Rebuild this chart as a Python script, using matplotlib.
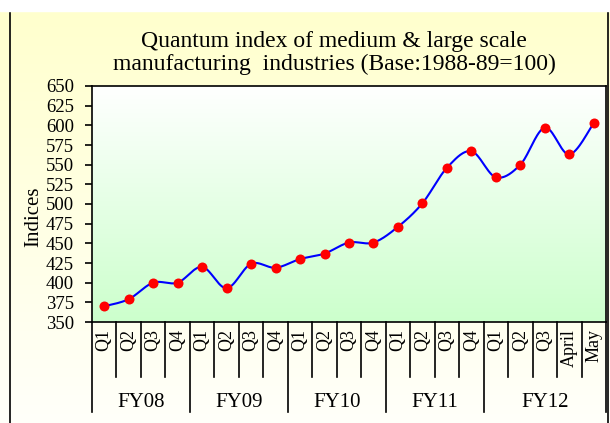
import numpy as np
import matplotlib
matplotlib.use("Agg")
import matplotlib.pyplot as plt
from matplotlib.transforms import blended_transform_factory
from matplotlib.patches import Rectangle
from matplotlib.lines import Line2D

title = "Quantum index of medium & large scale\nmanufacturing  industries (Base:1988-89=100)"
ylabel = "Indices"
fiscal_years = ["FY08", "FY09", "FY10", "FY11", "FY12"]
periods = [["Q1", "Q2", "Q3", "Q4"],
           ["Q1", "Q2", "Q3", "Q4"],
           ["Q1", "Q2", "Q3", "Q4"],
           ["Q1", "Q2", "Q3", "Q4"],
           ["Q1", "Q2", "Q3", "April", "May"]]
values = [370, 379, 400, 400,
          420, 393, 424, 419,
          430, 437, 451, 451,
          471, 501, 546, 567,
          534, 550, 597, 563, 603]
yticks = list(range(350, 651, 25))

plt.rcParams['font.family'] = ['Liberation Serif', 'DejaVu Serif']

W, H = 610, 423
fig = plt.figure(figsize=(W / 100, H / 100), dpi=100)

# figure background gradient (yellow top -> near white bottom)
bg = fig.add_axes([0, 0, 1, 1], zorder=-10)
bg.set_axis_off()
g = np.linspace(0, 1, 256)[:, None]
top = np.array([1.0, 1.0, 0.80])
bot = np.array([1.0, 1.0, 0.98])
img = top[None, None, :] * (1 - g[..., None]) + bot[None, None, :] * g[..., None]
bg.imshow(img, aspect='auto', extent=[0, 1, 0, 1], origin='upper')
bg.set_xlim(0, 1)
bg.set_ylim(0, 1)
# outer frame lines
fx0, fy0, fx1 = 9.5 / W, 1 - 11.5 / H, 608 / W
bg.add_line(Line2D([fx0, fx0], [0, fy0], color='black', lw=1.2))
bg.add_line(Line2D([fx0, fx1], [fy0, fy0], color='black', lw=1.2))
bg.add_line(Line2D([fx1, fx1], [0, fy0], color='black', lw=1.2))
# white above frame
bg.add_patch(Rectangle((0, fy0), 1, 1 - fy0, color='white', zorder=3))

L, R, T, B = 92, 606, 86, 322
ax = fig.add_axes([L / W, 1 - B / H, (R - L) / W, (B - T) / H])

n = len(values)
x = np.arange(n)
ax.set_xlim(-0.5, n - 0.5)
ax.set_ylim(350, 650)

# plot gradient (white top -> light green bottom)
gtop = np.array([1.0, 1.0, 1.0])
gbot = np.array([0.80, 1.0, 0.80])
pimg = gtop[None, None, :] * (1 - g[..., None]) + gbot[None, None, :] * g[..., None]
ax.imshow(pimg, aspect='auto', extent=[-0.5, n - 0.5, 350, 650], origin='upper', zorder=0)

# smoothed line (Catmull-Rom)
xs, ys = [], []
pts = np.column_stack([x, values]).astype(float)
for i in range(n - 1):
    p0 = pts[max(i - 1, 0)]
    p1 = pts[i]
    p2 = pts[i + 1]
    p3 = pts[min(i + 2, n - 1)]
    t = np.linspace(0, 1, 30)[:, None]
    seg = 0.5 * ((2 * p1) + (-p0 + p2) * t + (2 * p0 - 5 * p1 + 4 * p2 - p3) * t ** 2
                 + (-p0 + 3 * p1 - 3 * p2 + p3) * t ** 3)
    xs.extend(seg[:, 0])
    ys.extend(seg[:, 1])
ax.plot(xs, ys, color='#0000ff', lw=1.5, zorder=2)
ax.plot(x, values, 'o', color='#ff0000', markersize=7.2, zorder=3, markeredgewidth=0)

ax.set_yticks(yticks)
ax.set_yticklabels([str(v) for v in yticks], fontsize=13.5)
ax.tick_params(axis='y', direction='out', length=5, width=1.2, pad=8)
ax.set_xticks([])
for s in ax.spines.values():
    s.set_linewidth(1.2)
ax.set_ylabel(ylabel, fontsize=15)
ax.yaxis.set_label_coords((43 - L) / (R - L), (B - 217) / (B - T))

tr = blended_transform_factory(ax.transData, ax.transAxes)
ah = B - T
q_end = -(377 - B) / ah
fy_end = -(412 - B) / ah
idx = 0
boundaries = [-0.5]
for fy, per in zip(fiscal_years, periods):
    start = idx
    for p in per:
        ax.text(idx, -(329 - B) / ah, p, rotation=90, ha='center', va='top',
                fontsize=13, transform=tr)
        idx += 1
    ax.text((start + idx - 1) / 2, -(402 - B) / ah, fy, ha='center', va='center',
            fontsize=15, transform=tr)
    boundaries.append(idx - 0.5)

for i in range(n + 1):
    xb = i - 0.5
    end = fy_end if xb in boundaries else q_end
    ax.add_line(Line2D([xb, xb], [0, end], color='black', lw=1.2, transform=tr, clip_on=False))

fig.text(334 / W, 1 - 53 / H, title, ha='center', va='center', fontsize=17,
         linespacing=1.12)

fig.savefig('out.png', dpi=100)
